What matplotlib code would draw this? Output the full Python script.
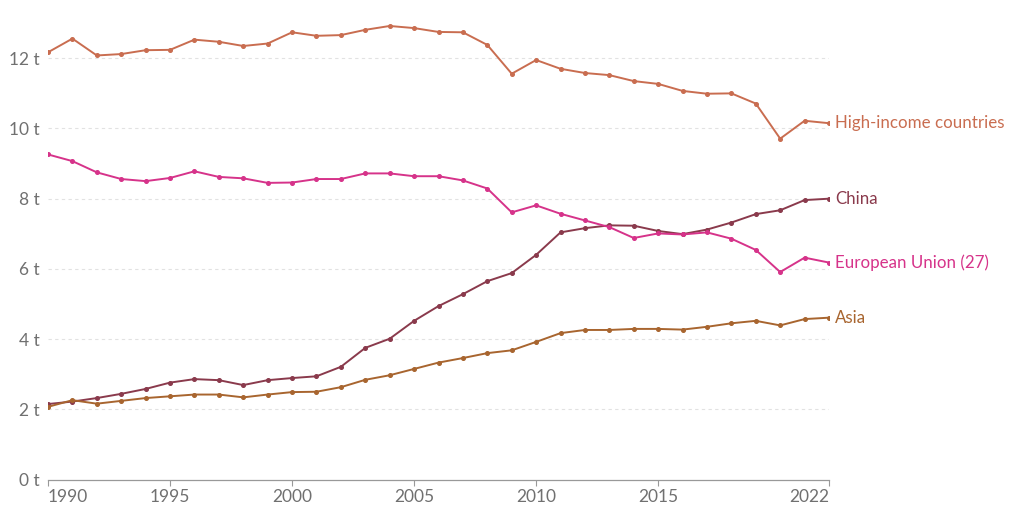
import matplotlib.pyplot as plt

# Datos (toneladas per cápita)
years = list(range(1990, 2023))

high_income = [12.17, 12.56, 12.08, 12.12, 12.23, 12.24, 12.53, 12.47, 12.35, 12.42,
               12.74, 12.64, 12.66, 12.81, 12.92, 12.86, 12.75, 12.74, 12.38, 11.56,
               11.95, 11.70, 11.58, 11.52, 11.35, 11.27, 11.07, 10.99, 11.00, 10.71,
               9.71, 10.22, 10.15]

eu27 = [9.26, 9.07, 8.75, 8.56, 8.50, 8.59, 8.78, 8.62, 8.58, 8.45,
        8.46, 8.56, 8.56, 8.72, 8.72, 8.64, 8.64, 8.52, 8.29, 7.61,
        7.81, 7.57, 7.38, 7.19, 6.88, 7.01, 6.98, 7.04, 6.86, 6.54,
        5.91, 6.32, 6.18]

china = [2.15, 2.22, 2.32, 2.44, 2.58, 2.76, 2.86, 2.83, 2.69, 2.83,
         2.89, 2.94, 3.21, 3.75, 4.01, 4.52, 4.94, 5.28, 5.65, 5.88,
         6.40, 7.04, 7.16, 7.24, 7.23, 7.08, 6.99, 7.12, 7.32, 7.56,
         7.67, 7.96, 8.00]

asia = [2.07, 2.26, 2.16, 2.24, 2.32, 2.37, 2.42, 2.42, 2.34, 2.42,
        2.49, 2.50, 2.63, 2.84, 2.97, 3.15, 3.33, 3.46, 3.60, 3.68,
        3.92, 4.17, 4.26, 4.26, 4.29, 4.29, 4.27, 4.35, 4.45, 4.52,
        4.39, 4.57, 4.61]

names = ['High-income countries', 'China', 'European Union (27)', 'Asia']
series = [high_income, china, eu27, asia]
colors = ['#c96d50', '#8a3a4c', '#d6338a', '#a8652f']

y_ticks = [0, 2, 4, 6, 8, 10, 12]
x_ticks = [1990, 1995, 2000, 2005, 2010, 2015, 2022]

#-----------------------------------------------------------------#

plt.rcParams['font.family'] = ['Lato', 'DejaVu Sans']

fig = plt.figure(figsize=(10.24, 5.21), dpi=100)
ax = fig.add_axes([48 / 1024, 41.5 / 521, 781 / 1024, 479.5 / 521])

for vals, name, c in zip(series, names, colors):
    ax.plot(years, vals, color=c, lw=1.4, marker='o', ms=2.6, zorder=3)
    ax.text(years[-1] + 0.25, vals[-1], name, color=c, fontsize=12.2,
            va='center', ha='left')

ax.set_xlim(1990, 2022)
ax.set_ylim(0, 13.66)

# rejilla
for t in y_ticks[1:]:
    ax.axhline(t, color='#e2e2e2', lw=0.8, ls=(0, (3, 3)), zorder=1)

ax.set_yticks(y_ticks)
ax.set_yticklabels([f'{t} t' for t in y_ticks])
ax.set_xticks(x_ticks)
ax.set_xticklabels([str(x) for x in x_ticks])
labels = ax.get_xticklabels()
labels[0].set_horizontalalignment('left')
labels[-1].set_horizontalalignment('right')

ax.tick_params(axis='y', length=0, pad=6, labelsize=12.5, labelcolor='#707070')
ax.tick_params(axis='x', length=4, width=0.8, color='#999999', pad=3,
               labelsize=12.5, labelcolor='#707070')

for s in ['top', 'right', 'left']:
    ax.spines[s].set_visible(False)
ax.spines['bottom'].set_color('#999999')
ax.spines['bottom'].set_linewidth(0.9)

fig.savefig('out.png', dpi=100)
